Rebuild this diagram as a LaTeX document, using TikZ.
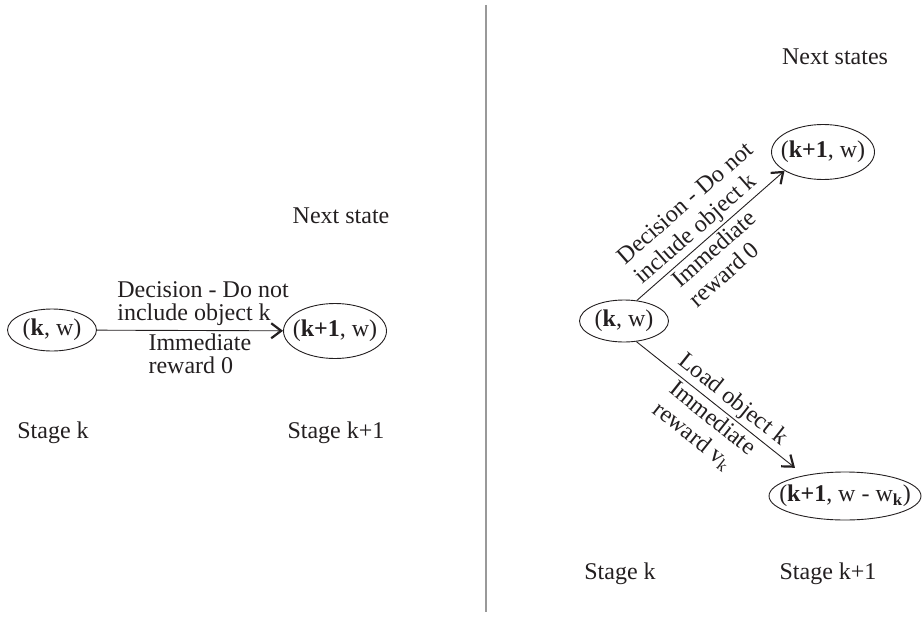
\documentclass[tikz,border=0pt]{standalone}
\usepackage{fontspec}
\setmainfont{Liberation Serif}
\usetikzlibrary{arrows.meta,shapes.geometric}
\definecolor{ink}{HTML}{231F20}
\begin{document}
\begin{tikzpicture}[x=1pt,y=-1pt,
  every node/.style={font=\fontsize{24}{23}\selectfont, text=ink},
  state/.style={draw=ink, line width=0.9pt, ellipse, inner sep=0pt},
  conn/.style={draw=ink, line width=0.9pt, -{Straight Barb[length=10pt,width=15pt,line width=2.2pt]}},
  lbl/.style={inner sep=1.5pt, align=left},
  rlbl/.style={inner sep=2.5pt, align=left, font=\fontsize{24}{26}\selectfont},
  plain/.style={inner sep=0pt}]
\useasboundingbox (0,0) rectangle (923,618);
% divider
\draw[draw=black!40, line width=2pt] (486,5) -- (486,612);
% ---------- left ----------
\node[state, minimum width=89pt, minimum height=42pt,
      label={[plain]center:(\textbf{k}, w)}] (a1) at (52,330) {};
\node[state, minimum width=103pt, minimum height=55pt,
      label={[plain]center:(\textbf{k+1}, w)}] (a2) at (335,331) {};
\draw[conn] (a1) -- node[lbl, pos=0.57, anchor=south, inner sep=4.5pt] {Decision - Do not\\include object k}
                   node[lbl, pos=0.553, anchor=north, inner sep=3pt] {Immediate\\reward 0} (a2);
\node[plain] (ns) at (341,216) {Next state};
\node[plain] (sk) at (53,433) {Stage k};
\node[plain] (sk1) at (336,433) {Stage k+1};
% ---------- right ----------
\node[state, minimum width=89pt, minimum height=42pt,
      label={[plain]center:(\textbf{k}, w)}] (b1) at (624,321) {};
\node[state, minimum width=103pt, minimum height=55pt,
      label={[plain]center:(\textbf{k+1}, w)}] (b2) at (823,152) {};
\node[state, minimum width=152pt, minimum height=48pt,
      label={[plain]center:(\textbf{k+1}, w - w\textsubscript{\textbf{k}})}] (b3) at (845,496) {};
\draw[conn] (b1.58) -- node[rlbl, sloped, pos=0.51, anchor=south] {Decision - Do not\\include object k}
                      node[rlbl, sloped, pos=0.467, anchor=north] {Immediate\\reward 0} (b2.206);
\draw[conn, shorten >=12pt] (b1.-59) -- node[rlbl, sloped, pos=0.52, anchor=south] {Load object k}
                      node[rlbl, sloped, pos=0.5, anchor=north] {Immediate\\reward v\textsubscript{k}} (b3.153);
\node[plain] (nss) at (835,57) {Next states};
\node[plain] (rk) at (620,574) {Stage k};
\node[plain] (rk1) at (828,574) {Stage k+1};
\end{tikzpicture}
\end{document}
